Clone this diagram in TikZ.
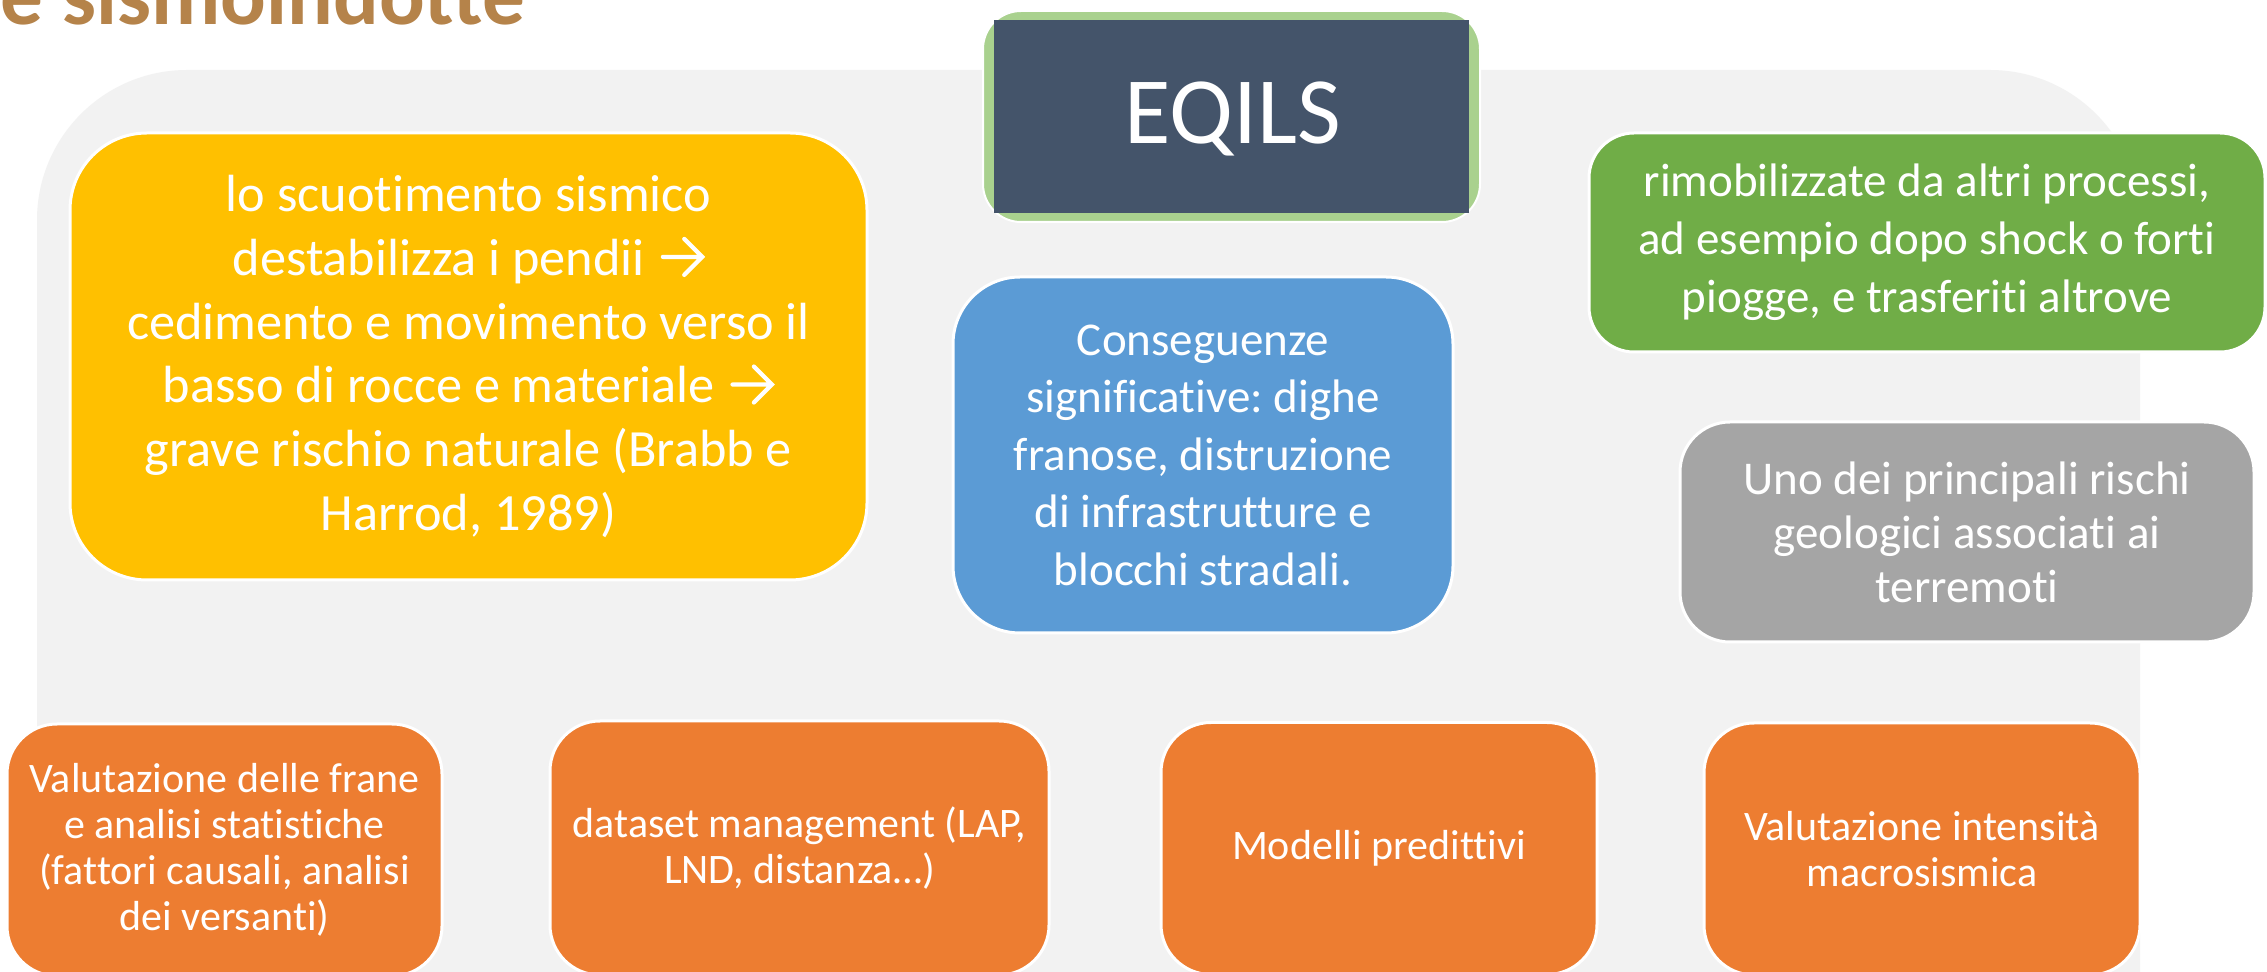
\documentclass[tikz,border=0pt]{standalone}
\usepackage{fontspec}
\setmainfont{Carlito}[Ligatures={TeX,NoCommon}]
\frenchspacing
\definecolor{bgGray}{HTML}{F2F2F2}
\definecolor{cYellow}{HTML}{FFC000}
\definecolor{cBlue}{HTML}{5B9BD5}
\definecolor{cGreen}{HTML}{70AD47}
\definecolor{cLGreen}{HTML}{A9D18E}
\definecolor{cGray}{HTML}{A5A5A5}
\definecolor{cOrange}{HTML}{ED7D31}
\definecolor{cNavy}{HTML}{44546A}
\definecolor{cTitle}{HTML}{B5834A}
\newcommand{\myrarrow}{\tikz[baseline=0pt, x=1pt, y=1pt, sharp corners]{\path (0,0) rectangle (23,18);\draw[white, line width=2.1pt, line cap=round, line join=miter] (3,9.2) -- (22.5,9.2) (13.7,18.2) -- (22.7,9.2) -- (13.7,0.2);}}
\tikzset{
  boxbase/.style={rectangle, draw=white, line width=1.5pt, text=white, align=center, inner sep=0pt},
  orangebox/.style={boxbase, fill=cOrange, rounded corners=25pt, minimum height=126pt,
     font=\fontsize{21}{23}\selectfont},
}
\begin{document}
\begin{tikzpicture}[x=0.5pt,y=-0.5pt]
\useasboundingbox (0,0) rectangle (2267,972);
\fill[white] (0,0) rectangle (2267,972);
% gray background panel
\fill[bgGray, rounded corners=75pt] (37,70) rectangle (2140,1200);
% title
\node[anchor=base west, inner sep=0pt, text=cTitle, font=\bfseries\fontsize{42.6}{50}\selectfont] (title) at (0,25) {e sismoindotte};
% EQILS
\node[rectangle, fill=cLGreen, draw=white, line width=1pt, rounded corners=19pt,
      minimum width=248.5pt, minimum height=105.5pt] (eqilsframe) at (1231.5,116.5) {};
\node[rectangle, fill=cNavy, minimum width=237.5pt, minimum height=96.5pt, inner sep=0pt] (eqils) at (1231.5,116.5) {};
\node[anchor=base, inner sep=0pt, text=white, font=\fontsize{47.5}{57}\selectfont] (eqilstext) at (1233,144) {EQILS};
% yellow
\node[boxbase, fill=cYellow, rounded corners=38.5pt, minimum width=398.5pt, minimum height=223.5pt,
      font=\fontsize{26.15}{31.9}\selectfont] (yellow) at (468.5,356.5)
  {lo scuotimento sismico\\destabilizza i pendii \myrarrow\\cedimento e movimento verso il\\basso di rocce e materiale \myrarrow\\grave rischio naturale (Brabb e\\Harrod, 1989)};
% blue
\node[boxbase, fill=cBlue, rounded corners=33.5pt, minimum width=250pt, minimum height=178pt,
      font=\fontsize{23.5}{28.75}\selectfont] (blue) at (1203,455)
  {Conseguenze\\significative: dighe\\franose, distruzione\\di infrastrutture e\\blocchi stradali.};
% green
\node[boxbase, fill=cGreen, rounded corners=22.5pt, minimum width=338pt, minimum height=109.5pt,
      font=\fontsize{23.5}{29}\selectfont] (green) at (1927,242.5)
  {rimobilizzate da altri processi,\\ad esempio dopo shock o forti\\piogge, e trasferiti altrove};
% gray
\node[boxbase, fill=cGray, rounded corners=25pt, minimum width=287pt, minimum height=110pt,
      font=\fontsize{23.5}{27}\selectfont] (gray) at (1967,532)
  {Uno dei principali rischi\\geologici associati ai\\terremoti};
% orange boxes
\node[orangebox, minimum width=217.5pt] (o1) at (224.5,850)
  {Valutazione delle frane\\e analisi statistiche\\(fattori causali, analisi\\dei versanti)};
\node[orangebox, minimum width=249.5pt, minimum height=127pt] (o2) at (799.5,848)
  {dataset management (LAP,\\LND, distanza…)};
\node[orangebox, minimum width=218pt] (o3) at (1379,848.5)
  {Modelli predittivi};
\node[orangebox, minimum width=218pt] (o4) at (1922,849)
  {Valutazione intensità\\macrosismica};
\end{tikzpicture}
\end{document}
